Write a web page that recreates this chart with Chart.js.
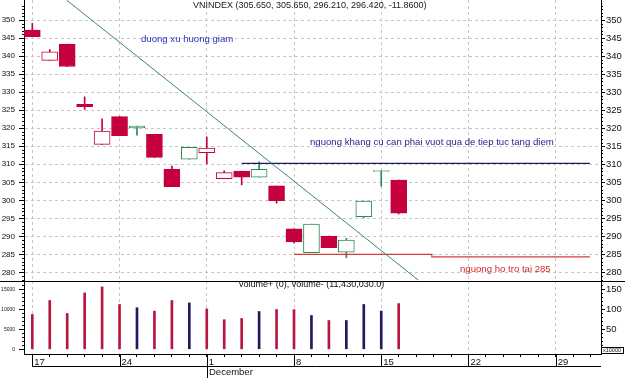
<!DOCTYPE html>
<html lang="vi">
<head>
<meta charset="UTF-8">
<title>VNINDEX</title>
<script src="https://cdn.jsdelivr.net/npm/chart.js"></script>
<style>
  html, body { margin: 0; padding: 0; background: #fff; }
  #wrap { position: relative; width: 625px; height: 378px; overflow: hidden; }
  #priceBox { position: absolute; left: 0; top: 0; width: 625px; height: 281px; }
  #volBox { position: absolute; left: 0; top: 281px; width: 625px; height: 97px; }
</style>
</head>
<body>
<div id="wrap">
  <div id="priceBox"><canvas id="priceChart"></canvas></div>
  <div id="volBox"><canvas id="volChart"></canvas></div>
</div>
<script>
// trading days, 17 Nov - 16 Dec
const dates = ['17/11', '18/11', '19/11', '20/11', '21/11', '24/11', '25/11', '26/11', '27/11', '28/11',
               '01/12', '02/12', '03/12', '04/12', '05/12', '08/12', '09/12', '10/12', '11/12', '12/12',
               '15/12', '16/12'];
const opens  = [347.2, 338.8, 343.3, 326.6, 315.5, 323.2, 320.1, 318.3, 308.6, 311.4, 313.2, 306.0, 308.1, 306.4, 304.0, 292.1, 285.5, 290.1, 285.6, 295.5, 308.0, 305.65];
const highs  = [349.1, 341.8, 343.3, 328.7, 322.6, 323.2, 320.6, 318.3, 309.5, 314.7, 317.6, 308.2, 308.1, 310.7, 304.0, 292.1, 293.4, 290.1, 289.5, 299.8, 308.28, 305.65];
const lows   = [345.4, 338.8, 337.1, 325.2, 315.5, 317.9, 318.1, 311.9, 303.8, 311.4, 310.1, 306.0, 304.3, 306.4, 299.2, 288.1, 285.5, 286.9, 284.1, 295.2, 303.9, 296.21];
const closes = [345.4, 341.2, 337.1, 326.0, 319.2, 317.9, 320.6, 311.9, 303.8, 314.7, 314.5, 307.7, 306.4, 308.6, 299.9, 288.5, 293.4, 286.9, 289.0, 299.8, 308.28, 296.42];
// volume, x10000
const volumes = [87, 122, 89.5, 141, 156, 112, 104, 95.5, 122, 116, 101, 74, 77, 94.5, 99.5, 99, 84.5, 72, 72, 112, 95.5, 114.3];

const weekTicks  = [0, 5, 10, 15, 20, 25, 30];
const weekLabels = ['17', '24', '1', '8', '15', '22', '29'];
const monthLabel = 'December';
const priceTicks = [280, 285, 290, 295, 300, 305, 310, 315, 320, 325, 330, 335, 340, 345, 350];
const volTicksLeft  = [0, 50, 100, 150];
const volTicksRight = [50, 100, 150];

// drawn lines (x = trading day index)
const trendLine      = [{x: 1.97, y: 355.5}, {x: 22.12, y: 277.9}];
const resistanceLine = [{x: 12, y: 310.25}, {x: 31.96, y: 310.25}];
const supportLine    = [{x: 15, y: 285.0}, {x: 22.9, y: 285.0}, {x: 22.9, y: 284.35}, {x: 31.96, y: 284.35}];

const titleText   = 'VNINDEX (305.650, 305.650, 296.210, 296.420, -11.8600)';
const trendNote   = 'duong xu huong giam';
const resistNote  = 'nguong khang cu can phai vuot qua de tiep tuc tang diem';
const supportNote = 'nguong ho tro tai 285';
const volumeNote  = 'volume+ (0), volume- (11,430,030.0)';
const volUnit     = 'x10000';

// ---- styles ----
const RED = '#c4003d', GREEN = '#2e8b57';
const VOL_RED = '#b8163e', VOL_BLUE = '#1c1c5e';
const GRID = '#c6c6c6';
const FONT = 'Arial, "Liberation Sans", sans-serif';
const X_MIN = -0.476, X_MAX = 32.596;

const up = closes.map((c, i) => i > 0 && c > closes[i - 1]);
const candleColor = up.map(u => u ? GREEN : RED);
const bodyFill = closes.map((c, i) => c > opens[i] ? '#ffffff' : candleColor[i]);
const volColor = up.map(u => u ? VOL_BLUE : VOL_RED);

const fixWidth = w => s => { s.width = w; s.paddingTop = 0; s.paddingBottom = 0; };

// short minor ticks on the value axes
function minorTicks(from, to, step, major) {
  return {
    id: 'minor' + from,
    afterDraw(chart) {
      const ctx = chart.ctx, a = chart.chartArea;
      const sc = chart.scales[Object.keys(chart.scales).find(k => k !== 'x')];
      ctx.save();
      ctx.strokeStyle = '#000';
      ctx.lineWidth = 1;
      ctx.beginPath();
      for (let v = from; v <= to; v += step) {
        if (v % major === 0) continue;
        const y = Math.round(sc.getPixelForValue(v)) + 0.5;
        if (y < a.top || y > a.bottom) continue;
        ctx.moveTo(a.left - 2, y); ctx.lineTo(a.left, y);
        ctx.moveTo(a.right, y); ctx.lineTo(a.right + 2, y);
      }
      ctx.stroke();
      ctx.restore();
    }
  };
}

const priceNotes = {
  id: 'priceNotes',
  afterDatasetsDraw(chart) {
    const ctx = chart.ctx;
    ctx.save();
    ctx.textBaseline = 'middle';
    ctx.textAlign = 'left';
    ctx.font = '9px ' + FONT;
    ctx.fillStyle = '#1a1a1a';
    ctx.fillText(titleText, 193, 6);
    ctx.font = '9.6px ' + FONT;
    ctx.fillStyle = '#2f2fc0';
    ctx.fillText(trendNote, 141, 39);
    ctx.fillStyle = '#24248c';
    ctx.fillText(resistNote, 310, 142.5);
    ctx.fillStyle = '#d42a2a';
    ctx.fillText(supportNote, 460, 269.5);
    ctx.restore();
  }
};

new Chart(document.getElementById('priceChart'), {
  type: 'bar',
  data: {
    datasets: [
      {
        label: 'wick',
        data: dates.map((d, i) => ({x: i, y: [lows[i], highs[i]]})),
        backgroundColor: candleColor,
        barThickness: 1,
        grouped: false,
        order: 3
      },
      {
        label: 'VNINDEX',
        data: dates.map((d, i) => ({x: i, y: [opens[i], closes[i]]})),
        backgroundColor: bodyFill,
        borderColor: candleColor,
        borderWidth: 1,
        borderSkipped: false,
        barThickness: 16,
        grouped: false,
        order: 2
      },
      { type: 'line', data: trendLine, borderColor: '#3f8282', borderWidth: 1, pointRadius: 0, order: 1 },
      { type: 'line', data: resistanceLine, borderColor: '#1c1c6c', borderWidth: 1.2, pointRadius: 0, order: 1 },
      { type: 'line', data: supportLine, borderColor: '#d83a3a', borderWidth: 1.2, pointRadius: 0, order: 1 }
    ]
  },
  options: {
    responsive: true,
    maintainAspectRatio: false,
    animation: false,
    events: [],
    layout: { padding: 0 },
    plugins: { legend: { display: false }, tooltip: { enabled: false } },
    scales: {
      x: {
        type: 'linear', min: X_MIN, max: X_MAX, offset: false,
        afterBuildTicks: s => { s.ticks = weekTicks.map(v => ({value: v})); },
        ticks: { display: false },
        grid: { color: GRID, drawTicks: false, offset: false, borderDash: [3, 3] },
        border: { display: false, dash: [3, 3] },
        afterFit: s => { s.height = 0; s.paddingLeft = 0; s.paddingRight = 0; }
      },
      y: {
        position: 'left', min: 277.64, max: 355.55,
        afterBuildTicks: s => { s.ticks = priceTicks.map(v => ({value: v})); },
        ticks: { font: { size: 8, family: FONT }, color: '#111', padding: 4 },
        grid: { color: GRID, tickColor: '#000', tickLength: 5, borderDash: [3, 3] },
        border: { color: '#000', dash: [3, 3] },
        afterFit: fixWidth(24)
      },
      y2: {
        position: 'right', min: 277.64, max: 355.55,
        afterBuildTicks: s => { s.ticks = priceTicks.map(v => ({value: v})); },
        ticks: { font: { size: 9.5, family: FONT }, color: '#111', padding: 1 },
        grid: { drawOnChartArea: false, tickColor: '#000', tickLength: 4 },
        border: { color: '#000' },
        afterFit: fixWidth(24)
      }
    }
  },
  plugins: [minorTicks(278, 355, 1, 5), priceNotes]
});

const volExtras = {
  id: 'volExtras',
  afterDraw(chart) {
    const ctx = chart.ctx, a = chart.chartArea, xs = chart.scales.x;
    ctx.save();
    ctx.strokeStyle = '#000';
    ctx.lineWidth = 1;
    ctx.beginPath();
    // panel separator
    ctx.moveTo(0, 0.5); ctx.lineTo(625, 0.5);
    // second date row
    const x0 = Math.round(xs.getPixelForValue(weekTicks[0])) + 0.5;
    ctx.moveTo(x0, 85.5); ctx.lineTo(a.right, 85.5);
    weekTicks.forEach((w, i) => {
      const x = Math.round(xs.getPixelForValue(w)) + 0.5;
      ctx.moveTo(x, a.bottom); ctx.lineTo(x, weekLabels[i] === '1' ? 97 : 85.5);
    });
    ctx.stroke();
    ctx.textBaseline = 'middle';
    ctx.textAlign = 'left';
    ctx.fillStyle = '#111';
    ctx.font = '9.5px ' + FONT;
    const xd = Math.round(xs.getPixelForValue(weekTicks[2])) + 2;
    ctx.fillText(monthLabel, xd, 91);
    ctx.font = '9px ' + FONT;
    ctx.fillText(volumeNote, 239, 4);
    // unit box
    ctx.font = '5.5px ' + FONT;
    ctx.fillText(volUnit, 603, 69.5);
    ctx.strokeRect(601.5, 66.5, 22, 6);
    ctx.restore();
  }
};

new Chart(document.getElementById('volChart'), {
  type: 'bar',
  data: {
    datasets: [{
      label: 'volume',
      data: dates.map((d, i) => ({x: i, y: volumes[i]})),
      backgroundColor: volColor,
      barThickness: 2,
      grouped: false,
      yAxisID: 'vl'
    }]
  },
  options: {
    responsive: true,
    maintainAspectRatio: false,
    animation: false,
    events: [],
    layout: { padding: 0 },
    plugins: { legend: { display: false }, tooltip: { enabled: false } },
    scales: {
      x: {
        type: 'linear', min: X_MIN, max: X_MAX, offset: false,
        afterBuildTicks: s => {
          const t = [];
          for (let i = 0; i <= 32; i++) t.push({value: i});
          s.ticks = t;
        },
        ticks: {
          autoSkip: false, maxRotation: 0, align: 'start', labelOffset: 2, padding: 0,
          font: { size: 9.5, family: FONT }, color: '#111',
          callback: v => { const k = weekTicks.indexOf(v); return k >= 0 ? weekLabels[k] : ''; }
        },
        grid: {
          offset: false,
          color: c => (c.tick && c.tick.value % 5 === 0) ? GRID : 'rgba(0,0,0,0)',
          tickColor: '#000', tickLength: 3, borderDash: [3, 3]
        },
        border: { color: '#000', dash: [3, 3] },
        afterFit: s => { s.height = 24; s.paddingLeft = 0; s.paddingRight = 0; }
      },
      vl: {
        position: 'left', min: -11.75, max: 170.75,
        afterBuildTicks: s => { s.ticks = volTicksLeft.map(v => ({value: v})); },
        ticks: { font: { size: 5, family: FONT }, color: '#111', padding: 4, callback: v => String(v * 100) },
        grid: { drawOnChartArea: false, tickColor: '#000', tickLength: 5 },
        border: { color: '#000' },
        afterFit: fixWidth(24)
      },
      vr: {
        position: 'right', min: -11.75, max: 170.75,
        afterBuildTicks: s => { s.ticks = volTicksRight.map(v => ({value: v})); },
        ticks: { font: { size: 9.5, family: FONT }, color: '#111', padding: 1 },
        grid: { drawOnChartArea: false, tickColor: '#000', tickLength: 4 },
        border: { color: '#000' },
        afterFit: fixWidth(24)
      }
    }
  },
  plugins: [minorTicks(0, 170, 10, 50), volExtras]
});
</script>
</body>
</html>
